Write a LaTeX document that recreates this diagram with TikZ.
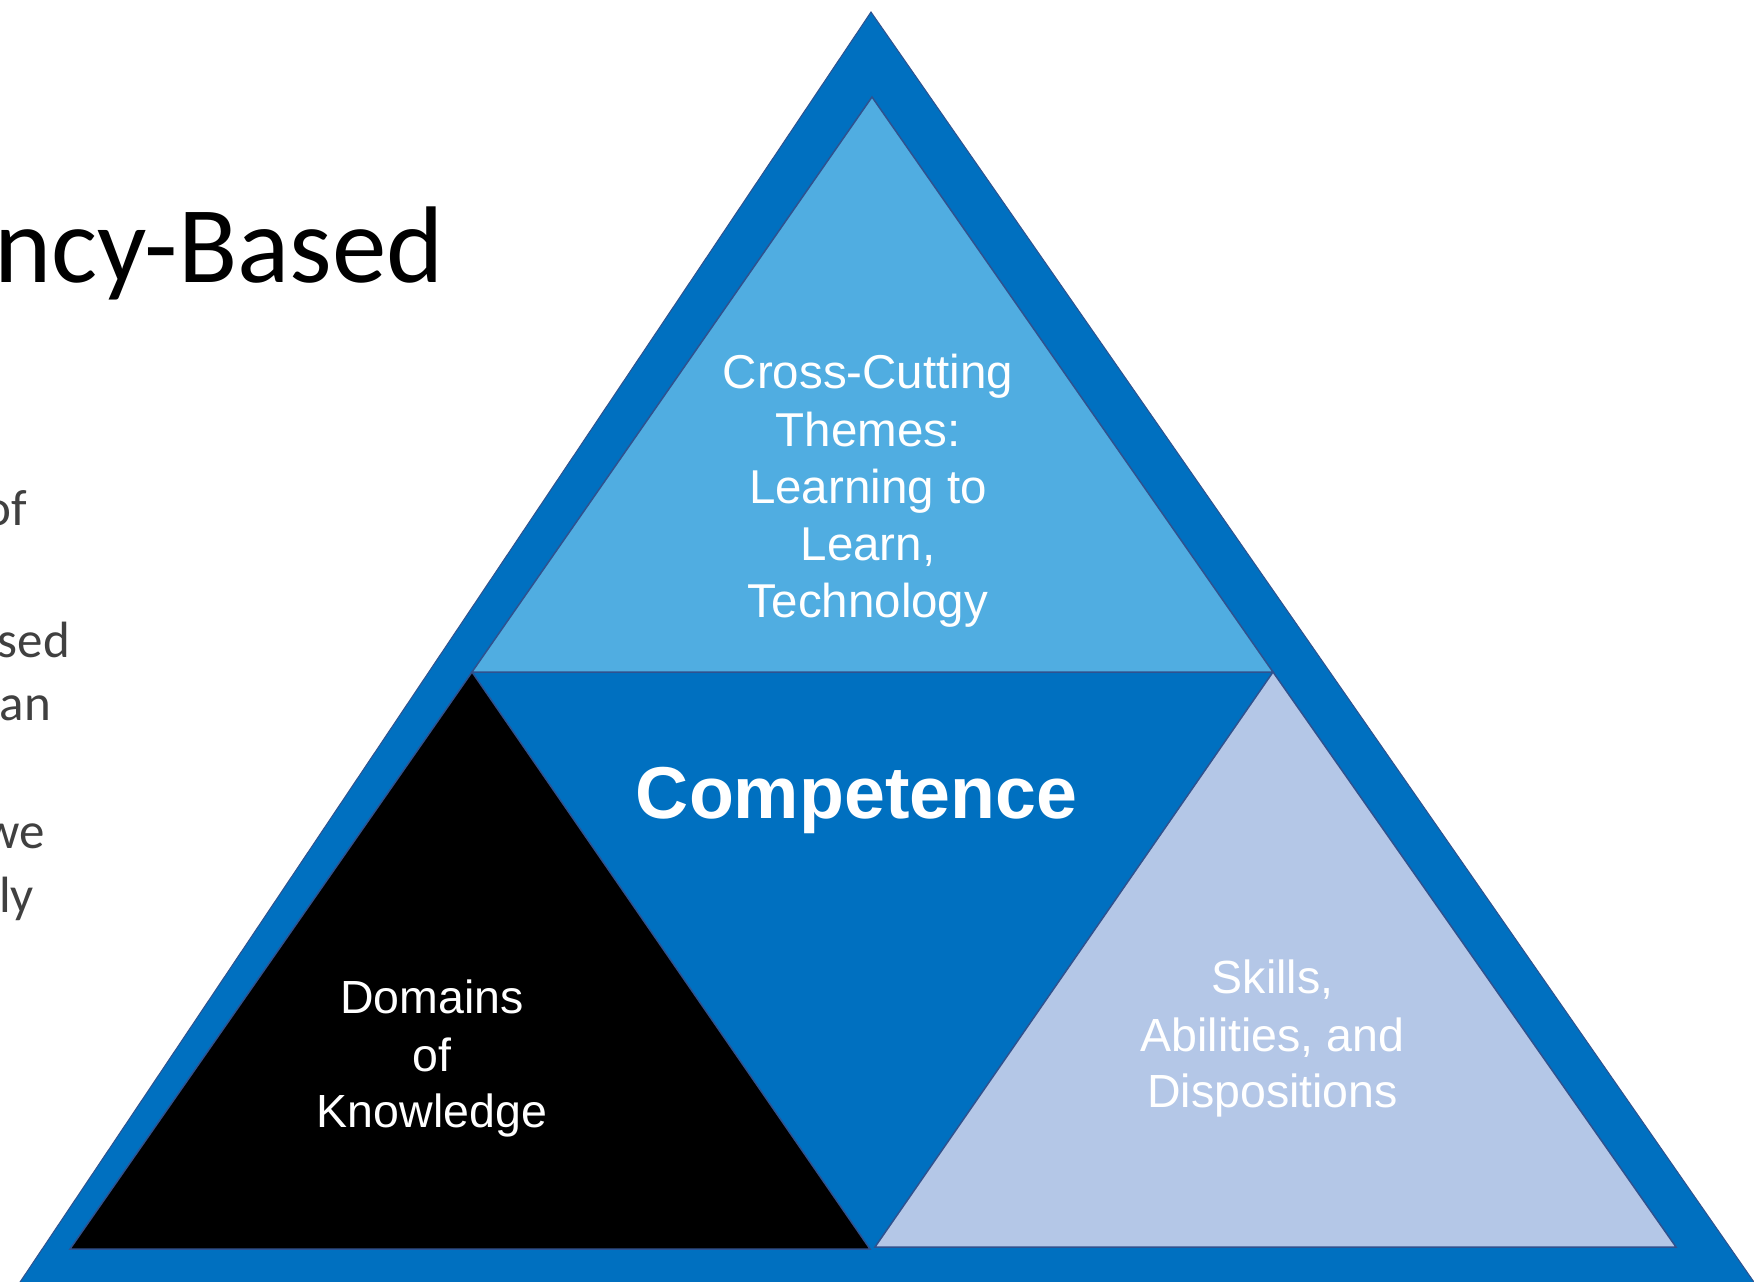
\documentclass[tikz,border=0pt]{standalone}
\usepackage{fontspec}
\setmainfont{Carlito}
\newfontfamily\arialf{Liberation Sans}
\definecolor{outerblue}{HTML}{0070C0}
\definecolor{lightblue}{HTML}{50ADE1}
\definecolor{periwinkle}{HTML}{B4C7E7}
\definecolor{edgeblue}{HTML}{2F528F}
\definecolor{bodygray}{HTML}{404040}
\begin{document}
\begin{tikzpicture}[x=1pt,y=-1pt,
  part/.style={draw=edgeblue, line width=1.5pt, line join=miter},
  trilabel/.style={font=\arialf\fontsize{46.5}{57}\selectfont, text=white, inner sep=0pt, anchor=base},
  toplabel/.style={trilabel, font=\arialf\fontsize{47.5}{57}\selectfont},
  bodyfrag/.style={font=\fontsize{51}{62}\selectfont, text=bodygray, inner sep=0pt, anchor=base east},
  titlefrag/.style={font=\fontsize{109}{130}\selectfont, text=black, inner sep=0pt, anchor=base east}
]
\useasboundingbox (0,0) rectangle (1754,1282);
\clip (0,0) rectangle (1754,1282);

% outer triangle
\coordinate (apex) at (871,12);
\coordinate (oL) at (-59,1400);
\coordinate (oR) at (1836,1400);
\filldraw[fill=outerblue, draw=edgeblue, line width=1pt] (apex) -- (oL) -- (oR) -- cycle;

% inner triangles
\coordinate (T) at (872,97);
\coordinate (L1) at (472,672);
\coordinate (R1) at (1273,672);
\coordinate (BL) at (70,1249);
\coordinate (BM) at (870,1249);
\coordinate (BM2) at (875,1247);
\coordinate (BR) at (1676,1247);

\filldraw[part, fill=lightblue] (T) -- (L1) -- (R1) -- cycle;
\filldraw[part, fill=black] (L1) -- (BL) -- (BM) -- cycle;
\filldraw[part, fill=periwinkle] (R1) -- (BM2) -- (BR) -- cycle;

% top triangle text
\node[toplabel] (cc1) at (868,388) {Cross-Cutting};
\node[toplabel] (cc2) at (868,446) {Themes:};
\node[toplabel] (cc3) at (868,503) {Learning to};
\node[toplabel] (cc4) at (868,560) {Learn,};
\node[toplabel] (cc5) at (868,617) {Technology};

% centre
\node[font=\arialf\bfseries\fontsize{73.5}{88}\selectfont, text=white, inner sep=0pt, anchor=base] (comp) at (856.5,818) {Competence};

% black triangle text
\node[trilabel] (dk1) at (432,1013) {Domains};
\node[trilabel] (dk2) at (432,1071) {of};
\node[trilabel] (dk3) at (432,1127) {Knowledge};

% periwinkle triangle text
\node[trilabel] (sk1) at (1272.5,993) {Skills,};
\node[trilabel] (sk2) at (1272.5,1051) {Abilities, and};
\node[trilabel] (sk3) at (1272.5,1107) {Dispositions};

% left slide text fragments (cut off at the left edge, as in the reference)
\node[titlefrag] (title) at (444,282) {ncy-Based};
\node[bodyfrag] (f1) at (27,525) {of};
\node[bodyfrag] (f2) at (70,657) {sed};
\node[bodyfrag] (f3) at (51,720) {an};
\node[bodyfrag] (f4) at (45,848) {we};
\node[bodyfrag] (f5) at (34,912) {ly};
\end{tikzpicture}
\end{document}
